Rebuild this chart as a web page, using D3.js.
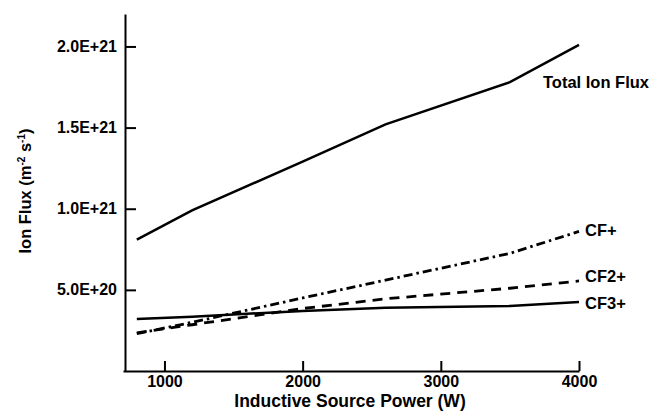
<!DOCTYPE html>
<html>
<head>
    <script src="https://d3js.org/d3.v7.min.js"></script>
    <style>
        body { margin: 0; background: #fff; }
        text { font-family: "Liberation Sans", Arial, sans-serif; font-weight: bold; fill: #000; }
    </style>
</head>
<body>
    <svg id="chart"></svg>
    <script>
        // data (flux in m^-2 s^-1)
        const power = [800, 1200, 2000, 2600, 3500, 4000];
        const totalFlux = [0.81e21, 0.99e21, 1.29e21, 1.52e21, 1.78e21, 2.01e21];
        const cfFlux = [0.23e21, 0.30e21, 0.45e21, 0.56e21, 0.725e21, 0.86e21];
        const cf2Flux = [0.235e21, 0.285e21, 0.385e21, 0.445e21, 0.51e21, 0.555e21];
        const cf3Flux = [0.32e21, 0.335e21, 0.37e21, 0.39e21, 0.40e21, 0.425e21];
        const seriesNames = ["Total Ion Flux", "CF+", "CF2+", "CF3+"];
        const xTicks = [1000, 2000, 3000, 4000];
        const yTicks = [0.5e21, 1.0e21, 1.5e21, 2.0e21];
        const yTickLabels = ["5.0E+20", "1.0E+21", "1.5E+21", "2.0E+21"];

        const svg = d3.select('#chart')
            .attr('width', 653)
            .attr('height', 412);

        const x = d3.scaleLinear().domain([700, 4000]).range([123, 579]);
        const y = d3.scaleLinear().domain([0, 2.2e21]).range([371, 14]);

        // axes, ticks pointing inward
        const xAxis = svg.append('g')
            .attr('transform', 'translate(0,371)')
            .call(d3.axisBottom(x).tickValues(xTicks).tickSize(-10).tickSizeOuter(0).tickPadding(5)
                .tickFormat(d3.format('d')));
        const yAxis = svg.append('g')
            .attr('transform', 'translate(125,0)')
            .call(d3.axisLeft(y).tickValues(yTicks).tickSize(-11).tickSizeOuter(0).tickPadding(8)
                .tickFormat((d, i) => yTickLabels[i]));

        [xAxis, yAxis].forEach(g => {
            g.select('.domain').attr('stroke', '#000').attr('stroke-width', 2);
            g.selectAll('.tick line').attr('stroke', '#000').attr('stroke-width', 2);
            g.selectAll('.tick text')
                .attr('font-size', '16px')
                .attr('font-family', '"Liberation Sans", Arial, sans-serif')
                .attr('font-weight', 'bold')
                .attr('fill', '#000');
        });

        const line = d3.line()
            .x((d, i) => x(power[i]))
            .y(d => y(d));

        const series = [
            { name: seriesNames[0], values: totalFlux, dash: null, w: 2.5 },
            { name: seriesNames[1], values: cfFlux, dash: '9,4,2.5,4', w: 2.8 },
            { name: seriesNames[2], values: cf2Flux, dash: '10,7', w: 2.8 },
            { name: seriesNames[3], values: cf3Flux, dash: null, w: 2.5 }
        ];

        svg.selectAll('.series')
            .data(series)
            .enter().append('path')
            .attr('class', 'series')
            .attr('d', d => line(d.values))
            .attr('fill', 'none')
            .attr('stroke', '#000')
            .attr('stroke-width', d => d.w)
            .attr('stroke-dasharray', d => d.dash);

        // series labels
        const labelPos = [
            { x: 543, y: 88 },
            { x: 585, y: 236 },
            { x: 585, y: 282 },
            { x: 585, y: 309 }
        ];
        svg.selectAll('.lbl')
            .data(series)
            .enter().append('text')
            .attr('class', 'lbl')
            .attr('x', (d, i) => labelPos[i].x)
            .attr('y', (d, i) => labelPos[i].y)
            .attr('font-size', '16.5px')
            .text(d => d.name);

        // axis titles
        svg.append('text')
            .attr('x', 350)
            .attr('y', 407)
            .attr('text-anchor', 'middle')
            .attr('font-size', '17.5px')
            .text('Inductive Source Power (W)');

        const yt = svg.append('text')
            .attr('transform', 'translate(31,191) rotate(-90)')
            .attr('text-anchor', 'middle')
            .attr('font-size', '16.5px');
        yt.append('tspan').text('Ion Flux (m');
        yt.append('tspan').attr('dy', -6).attr('font-size', '10px').text('-2');
        yt.append('tspan').attr('dy', 6).text(' s');
        yt.append('tspan').attr('dy', -6).attr('font-size', '10px').text('-1');
        yt.append('tspan').attr('dy', 6).text(')');
    </script>
</body>
</html>
